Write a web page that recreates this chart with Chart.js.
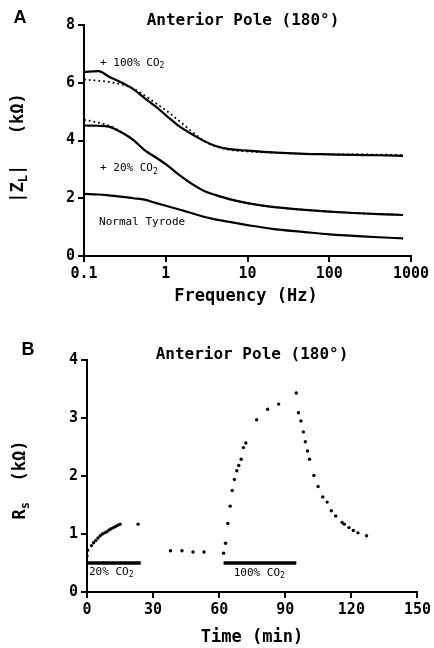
<!DOCTYPE html>
<html>
<head>
<meta charset="utf-8">
<script src="https://cdn.jsdelivr.net/npm/chart.js@4/dist/chart.umd.min.js"></script>
<style>
  html, body { margin: 0; padding: 0; background: #fff; }
  .panel { position: absolute; left: 0; width: 434px; }
  #panelA { top: 0; height: 320px; }
  #panelB { top: 320px; height: 328px; }
</style>
</head>
<body>
<div class="panel" id="panelA"><canvas id="chartA" width="434" height="320"></canvas></div>
<div class="panel" id="panelB"><canvas id="chartB" width="434" height="328"></canvas></div>
<script>
// Panel A: impedance magnitude vs frequency
const freqHz = [0.1, 0.15, 0.2, 0.3, 0.4, 0.55, 0.75, 1, 1.5, 2, 3, 4, 6, 10, 20, 50, 100, 200, 400, 800]
const zCo2Full = [6.38, 6.40, 6.22, 5.98, 5.78, 5.47, 5.18, 4.88, 4.47, 4.25, 3.97, 3.82, 3.70, 3.65, 3.59, 3.54, 3.52, 3.50, 3.49, 3.47]
const zCo2FullFit = [6.11, 6.07, 6.03, 5.93, 5.80, 5.56, 5.30, 5.05, 4.65, 4.35, 3.97, 3.80, 3.68, 3.62, 3.58, 3.54, 3.52, 3.52, 3.51, 3.50]
const zCo2Low = [4.52, 4.51, 4.48, 4.25, 4.02, 3.67, 3.42, 3.18, 2.78, 2.53, 2.24, 2.12, 1.97, 1.83, 1.70, 1.60, 1.54, 1.49, 1.45, 1.42]
const zCo2LowFit = [4.72, 4.62, 4.52, 4.27, 4.02, 3.67, 3.42, 3.18, 2.78, 2.53, 2.24, 2.12, 1.97, 1.83, 1.70, 1.60, 1.54, 1.49, 1.45, 1.42]
const zNormal = [2.15, 2.13, 2.10, 2.05, 2.00, 1.95, 1.84, 1.74, 1.60, 1.50, 1.35, 1.27, 1.18, 1.07, 0.94, 0.83, 0.75, 0.70, 0.65, 0.61]
const freqTicks = [0.1, 1, 10, 100, 1000]
const freqTickLabels = ["0.1", "1", "10", "100", "1000"]
const zTicks = [0, 2, 4, 6, 8]

// Panel B: Rs vs time
const timeMin = [0, 0.3, 2, 3, 4, 5, 6, 7, 8, 9, 10, 11, 12, 13, 14, 15,
    23.2, 37.9, 43.1, 48.1, 53.1, 62.0, 62.9, 63.9, 65.0, 65.9, 66.9, 68.0, 68.9, 70.0, 71.0, 72.1, 77.0, 82.0, 87.0,
    95.0, 96.0, 97.1, 98.2, 99.1, 100.1, 101.0, 103.0, 104.9, 107.0, 109.0, 110.9, 112.9, 115.8, 116.8, 118.9, 120.9, 123.0, 126.9]
const rsKohm = [0.62, 0.72, 0.80, 0.85, 0.89, 0.93, 0.97, 1.00, 1.02, 1.04, 1.07, 1.09, 1.11, 1.13, 1.15, 1.17,
    1.17, 0.71, 0.71, 0.69, 0.69, 0.67, 0.84, 1.18, 1.48, 1.75, 1.94, 2.09, 2.18, 2.29, 2.49, 2.57, 2.97, 3.15, 3.24,
    3.43, 3.09, 2.95, 2.76, 2.59, 2.43, 2.29, 2.01, 1.82, 1.64, 1.55, 1.40, 1.31, 1.20, 1.17, 1.11, 1.06, 1.02, 0.97]
const timeTicks = [0, 30, 60, 90, 120, 150]
const rsTicks = [0, 1, 2, 3, 4]
const co2Periods = [[0, 24.4], [62, 95]]
const co2Level = 0.5

const FONT = "'DejaVu Sans Mono', monospace"
const INK = "#000"

function pairs(xs, ys) {
    return xs.map((x, i) => ({ x: x, y: ys[i] }))
}

// draw text made of [string, isSubscript] parts
function drawRich(ctx, parts, x, y, size, align, weight) {
    const w = weight || "bold"
    const subSize = Math.round(size * 0.72)
    let total = 0
    parts.forEach(p => {
        ctx.font = w + " " + (p[1] ? subSize : size) + "px " + FONT
        total += ctx.measureText(p[0]).width
    })
    let cx = align === "center" ? x - total / 2 : x
    ctx.textAlign = "left"
    ctx.textBaseline = "middle"
    parts.forEach(p => {
        ctx.font = w + " " + (p[1] ? subSize : size) + "px " + FONT
        ctx.fillText(p[0], cx, p[1] ? y + size * 0.3 : y)
        cx += ctx.measureText(p[0]).width
    })
}

function tickFont() {
    return { family: FONT, size: 15, weight: "bold" }
}

function axisStyle(extra) {
    return Object.assign({
        grid: { drawOnChartArea: false, drawTicks: true, tickLength: 6, color: INK, lineWidth: 2 },
        border: { display: true, color: INK, width: 2 },
        ticks: { color: INK, font: tickFont(), padding: 3, maxRotation: 0, autoSkip: false }
    }, extra)
}

const annotA = {
    id: "annotA",
    afterDraw(chart) {
        const ctx = chart.ctx
        const xs = chart.scales.x
        const ys = chart.scales.y
        ctx.save()
        ctx.fillStyle = INK
        ctx.font = "bold 18px 'Liberation Sans', sans-serif"
        ctx.textAlign = "center"
        ctx.textBaseline = "middle"
        ctx.fillText("A", 20, 18)
        drawRich(ctx, [["Anterior Pole (180°)", false]], 243, 21, 16, "center")
        drawRich(ctx, [["+ 100% CO", false], ["2", true]], xs.getPixelForValue(0.157), ys.getPixelForValue(6.68), 11, "left", "normal")
        drawRich(ctx, [["+ 20% CO", false], ["2", true]], xs.getPixelForValue(0.157), ys.getPixelForValue(3.04), 11, "left", "normal")
        drawRich(ctx, [["Normal Tyrode", false]], xs.getPixelForValue(0.153), ys.getPixelForValue(1.18), 11, "left", "normal")
        drawRich(ctx, [["Frequency (Hz)", false]], 246, 297, 17, "center")
        ctx.translate(19, 148)
        ctx.rotate(-Math.PI / 2)
        drawRich(ctx, [["|Z", false], ["L", true], ["|   (kΩ)", false]], 0, 0, 17, "center")
        ctx.restore()
    }
}

const annotB = {
    id: "annotB",
    afterDraw(chart) {
        const ctx = chart.ctx
        const xs = chart.scales.x
        const ys = chart.scales.y
        ctx.save()
        ctx.fillStyle = INK
        ctx.font = "bold 18px 'Liberation Sans', sans-serif"
        ctx.textAlign = "center"
        ctx.textBaseline = "middle"
        ctx.fillText("B", 28, 30)
        drawRich(ctx, [["Anterior Pole (180°)", false]], 252, 35, 16, "center")
        drawRich(ctx, [["20% CO", false], ["2", true]], xs.getPixelForValue(0.9), ys.getPixelForValue(0.35), 11, "left", "normal")
        drawRich(ctx, [["100% CO", false], ["2", true]], xs.getPixelForValue(78.2), ys.getPixelForValue(0.33), 11, "center", "normal")
        drawRich(ctx, [["Time (min)", false]], 252, 318, 17, "center")
        ctx.translate(21, 160)
        ctx.rotate(-Math.PI / 2)
        drawRich(ctx, [["R", false], ["s", true], ["  (kΩ)", false]], 0, 0, 17, "center")
        ctx.restore()
    }
}

function curve(values, dotted) {
    return {
        data: pairs(freqHz, values),
        borderColor: INK,
        borderWidth: dotted ? 1.8 : 2.2,
        borderDash: dotted ? [1.8, 3] : [],
        pointRadius: 0,
        fill: false,
        cubicInterpolationMode: "monotone"
    }
}

new Chart(document.getElementById("chartA"), {
    type: "line",
    data: {
        datasets: [
            curve(zCo2FullFit, true),
            curve(zCo2Full, false),
            curve(zCo2LowFit, true),
            curve(zCo2Low, false),
            curve(zNormal, false)
        ]
    },
    options: {
        responsive: false,
        animation: false,
        layout: { padding: { top: 25, right: 23, left: 0, bottom: 0 } },
        plugins: { legend: { display: false }, tooltip: { enabled: false } },
        scales: {
            x: axisStyle({
                type: "logarithmic",
                min: 0.1,
                max: 1000,
                afterBuildTicks: s => { s.ticks = freqTicks.map(v => ({ value: v })) },
                afterFit: s => { s.height = 64 },
                ticks: { color: INK, font: tickFont(), padding: 3, maxRotation: 0, autoSkip: false,
                    callback: v => freqTickLabels[freqTicks.indexOf(v)] }
            }),
            y: axisStyle({
                min: 0,
                max: 8,
                afterBuildTicks: s => { s.ticks = zTicks.map(v => ({ value: v })) },
                afterFit: s => { s.width = 84 }
            })
        }
    },
    plugins: [annotA]
})

const barSets = co2Periods.map(p => ({
    type: "line",
    data: [{ x: p[0], y: co2Level }, { x: p[1], y: co2Level }],
    borderColor: INK,
    borderWidth: 3.5,
    pointRadius: 0,
    showLine: true
}))

new Chart(document.getElementById("chartB"), {
    type: "scatter",
    data: {
        datasets: [{
            data: pairs(timeMin, rsKohm),
            pointRadius: 1.7,
            pointBackgroundColor: INK,
            pointBorderWidth: 0
        }].concat(barSets)
    },
    options: {
        responsive: false,
        animation: false,
        layout: { padding: { top: 40, right: 16, left: 0, bottom: 0 } },
        plugins: { legend: { display: false }, tooltip: { enabled: false } },
        scales: {
            x: axisStyle({
                type: "linear",
                min: 0,
                max: 150,
                afterBuildTicks: s => { s.ticks = timeTicks.map(v => ({ value: v })) },
                afterFit: s => { s.height = 56 }
            }),
            y: axisStyle({
                min: 0,
                max: 4,
                afterBuildTicks: s => { s.ticks = rsTicks.map(v => ({ value: v })) },
                afterFit: s => { s.width = 87 }
            })
        }
    },
    plugins: [annotB]
})
</script>
</body>
</html>
